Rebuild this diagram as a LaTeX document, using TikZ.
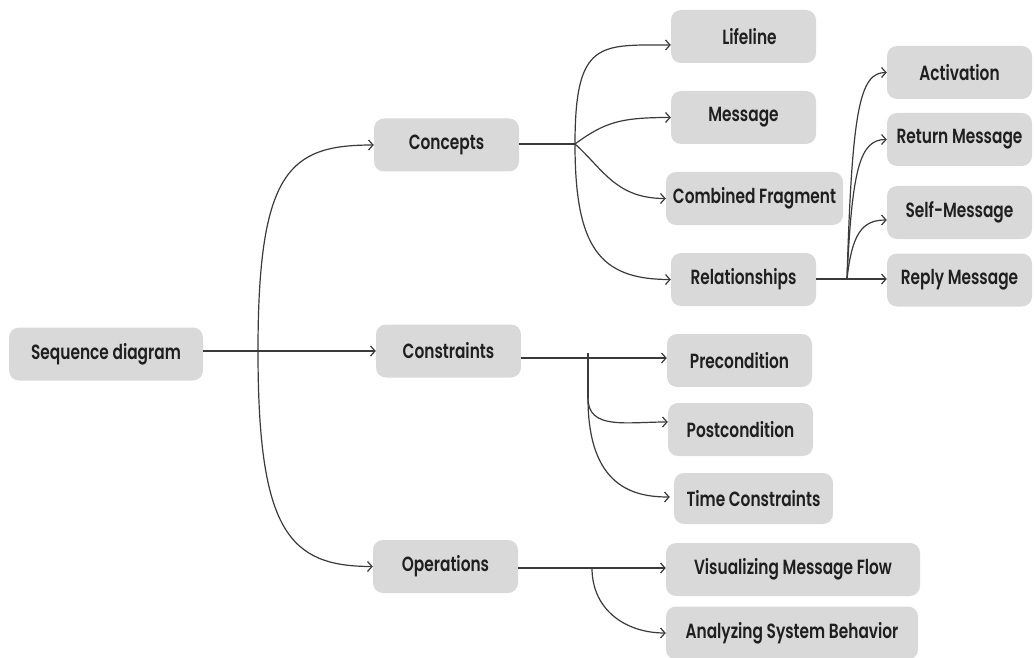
\documentclass[tikz,border=0pt]{standalone}
\usepackage{fontspec}
\setmainfont{Poppins SemiBold}[FakeStretch=0.75]
\usetikzlibrary{arrows.meta}
\definecolor{boxgray}{HTML}{D9D9D9}
\definecolor{linegray}{HTML}{3A3A3A}
\begin{document}
\begin{tikzpicture}[x=1pt,y=-1pt,
  box/.style={fill=boxgray, rounded corners=10pt, inner sep=0pt,
    minimum height=53pt, minimum width=145pt, font=\fontsize{20.5}{24}\selectfont, text=black!88},
  link/.style={draw=linegray, line width=1.2pt, -{Straight Barb[length=4.5pt,width=10pt]}},
  plain/.style={draw=linegray, line width=1.2pt}]
\useasboundingbox (0,0) rectangle (1034,658);

% root and first level
\node[box, minimum width=194pt] (seq) at (106,354) {Sequence diagram};
\node[box] (concepts) at (446.5,145) {Concepts};
\node[box] (constraints) at (448.5,351) {Constraints};
\node[box] (operations) at (445.5,566.5) {Operations};

% concepts children
\node[box] (lifeline) at (743.5,36.5) {\hspace*{12pt}Lifeline};
\node[box] (message) at (743.5,117.5) {Message};
\node[box, minimum width=177pt] (combined) at (754.5,198.5) {Combined Fragment};
\node[box] (relationships) at (743.5,279.5) {Relationships};

% relationship kinds
\node[box] (activation) at (959.5,72.5) {Activation};
\node[box] (return) at (959.5,139.5) {Return Message};
\node[box] (selfmsg) at (959.5,212.5) {Self-Message};
\node[box] (reply) at (959.5,280) {Reply Message};

% constraints children
\node[box] (pre) at (739.5,360.5) {Precondition};
\node[box] (post) at (740.5,429.5) {Postcondition};
\node[box, minimum width=159pt, minimum height=51pt] (time) at (753.5,498.5) {Time Constraints};

% operations children
\node[box, minimum width=254pt] (visual) at (793,569.5) {Visualizing Message Flow};
\node[box, minimum width=252pt] (analyze) at (792,633) {Analyzing System Behavior};

% branch points
\coordinate (lb) at (258,351);
\coordinate (cb) at (575,144);
\coordinate (rb) at (847,279);
\coordinate (kb) at (588,358);
\coordinate (ob) at (592,568);

% root to first level
\draw[link] (seq.east |- constraints.west) -- (constraints.west);
\draw[link] (lb) .. controls +(0,-181) and +(-84,0) .. (concepts.west);
\draw[link] (lb) .. controls +(0,180) and +(-84,0) .. (operations.west);

% concepts branches
\draw[plain] (concepts.east |- cb) -- (cb);
\draw[link] (cb) .. controls +(0,-104) and +(-71,0) .. ([yshift=-8.5pt]lifeline.west);
\draw[link] (cb) .. controls +(30,-22) and +(-50,0) .. (message.west);
\draw[link] (cb) .. controls +(28,25) and +(-50,0) .. (combined.west);
\draw[link] (cb) .. controls +(0,104) and +(-71,0) .. (relationships.west);

% relationships branches
\draw[plain] (relationships.east |- rb) -- (rb);
\draw[link] (rb) -- (reply.west |- rb);
\draw[link] (rb) .. controls +(5,-170) and +(-27,0) .. (activation.west);
\draw[link] (rb) .. controls +(5,-110) and +(-27,0) .. (return.west);
\draw[link] (rb) .. controls +(5,-45) and +(-25,0) .. ([yshift=-7.5pt]selfmsg.west);

% constraints branches
\draw[link] (constraints.east |- kb) -- (pre.west |- kb);
\draw[plain] ([yshift=5pt]kb) -- ++(0,45);
\draw[link] ([yshift=-40pt]kb) .. controls +(0,32) and +(-42,0) .. ([yshift=7.5pt]post.west);
\draw[link] ([yshift=-40pt]kb) .. controls +(0,90) and +(-35,0) .. ([yshift=1.5pt,xshift=-4pt]time.west);

% operations branches
\draw[link] (operations.east |- ob) -- (visual.west |- ob);
\draw[link] (ob) .. controls +(0,42) and +(-40,0) .. (analyze.west);
\end{tikzpicture}
\end{document}
